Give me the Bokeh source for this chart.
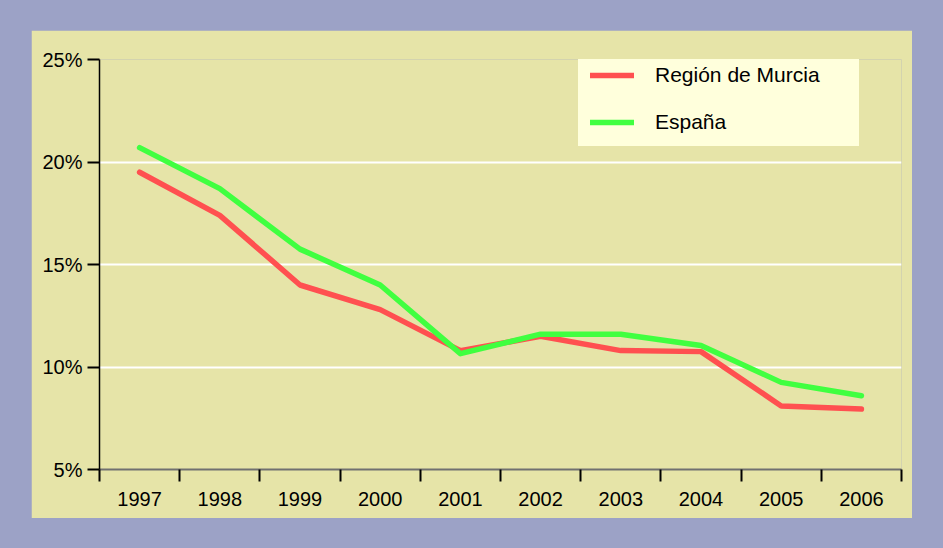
from bokeh.plotting import figure
from bokeh.models import (Range1d, FixedTicker, PrintfTickFormatter, Legend, LegendItem)
from bokeh.embed import file_html
from bokeh.resources import INLINE

years = ["1997", "1998", "1999", "2000", "2001", "2002", "2003", "2004", "2005", "2006"]
murcia = [19.5, 17.4, 14.0, 12.8, 10.8, 11.5, 10.8, 10.75, 8.1, 7.95]
espana = [20.7, 18.7, 15.75, 14.0, 10.65, 11.6, 11.6, 11.05, 9.25, 8.6]
y_ticks = [5, 10, 15, 20, 25]

FONT = "Liberation Sans"
OUTER = "#9ca2c6"
PANEL = "#e6e4a8"
RED = "#ff5050"
GREEN = "#40ff40"
LEGBG = "#ffffdc"

xs = [i + 0.5 for i in range(len(years))]
bounds = list(range(len(years) + 1))

p = figure(width=881, height=488, output_backend="svg", toolbar_location=None,
           x_range=Range1d(0, len(years)), y_range=Range1d(min(y_ticks), max(y_ticks)),
           min_border_left=68, min_border_right=11, min_border_top=29, min_border_bottom=49)
p.margin = (30, 0, 0, 31)
p.background_fill_color = PANEL
p.border_fill_color = PANEL
p.outline_line_color = None

# x axis: labels at centres, tick marks at boundaries (minor ticks)
xa = p.xaxis[0]
xa.ticker = FixedTicker(ticks=xs, minor_ticks=bounds)
xa.major_label_overrides = {x: y for x, y in zip(xs, years)}
xa.major_tick_in = 0
xa.major_tick_out = 0
xa.minor_tick_in = 0
xa.minor_tick_out = 12
xa.minor_tick_line_color = "black"
xa.minor_tick_line_width = 2
xa.axis_line_color = "#707070"
xa.axis_line_width = 2
xa.major_label_standoff = 10
xa.major_label_text_font = FONT
xa.major_label_text_font_size = "20px"
xa.major_label_text_color = "black"

ya = p.yaxis[0]
ya.ticker = FixedTicker(ticks=y_ticks)
ya.formatter = PrintfTickFormatter(format="%d%%")
ya.major_tick_in = 0
ya.major_tick_out = 12
ya.major_tick_line_color = "black"
ya.major_tick_line_width = 2
ya.minor_tick_line_color = None
ya.axis_line_color = "black"
ya.axis_line_width = 1.5
ya.major_label_standoff = 5
ya.major_label_text_font = FONT
ya.major_label_text_font_size = "20px"
ya.major_label_text_color = "black"

p.ygrid[0].ticker = FixedTicker(ticks=y_ticks)
p.ygrid[0].grid_line_color = "white"
p.ygrid[0].grid_line_width = 2
p.xgrid[0].ticker = FixedTicker(ticks=[bounds[-1]])
p.xgrid[0].grid_line_color = "white"
p.xgrid[0].grid_line_width = 2

r1 = p.line(xs, murcia, line_color=RED, line_width=5.5, line_cap="round", line_join="round")
r2 = p.line(xs, espana, line_color=GREEN, line_width=5.5, line_cap="round", line_join="round")

legend = Legend(items=[LegendItem(label="Región de Murcia", renderers=[r1]),
                       LegendItem(label="España", renderers=[r2])],
                location=(479, 323), margin=0, padding=11, spacing=23,
                glyph_width=44, glyph_height=24, label_height=24, label_width=192,
                label_standoff=21, label_text_font=FONT, label_text_font_size="21px",
                label_text_color="black",
                background_fill_color=LEGBG, background_fill_alpha=1.0,
                border_line_color=LEGBG, border_line_width=1)
p.add_layout(legend, "center")

html = file_html(p, INLINE)
i = html.rfind("</head>")
html = html[:i] + "<style>html, body { background: %s !important; }</style>\n" % OUTER + html[i:]
open("out.html", "w").write(html)
